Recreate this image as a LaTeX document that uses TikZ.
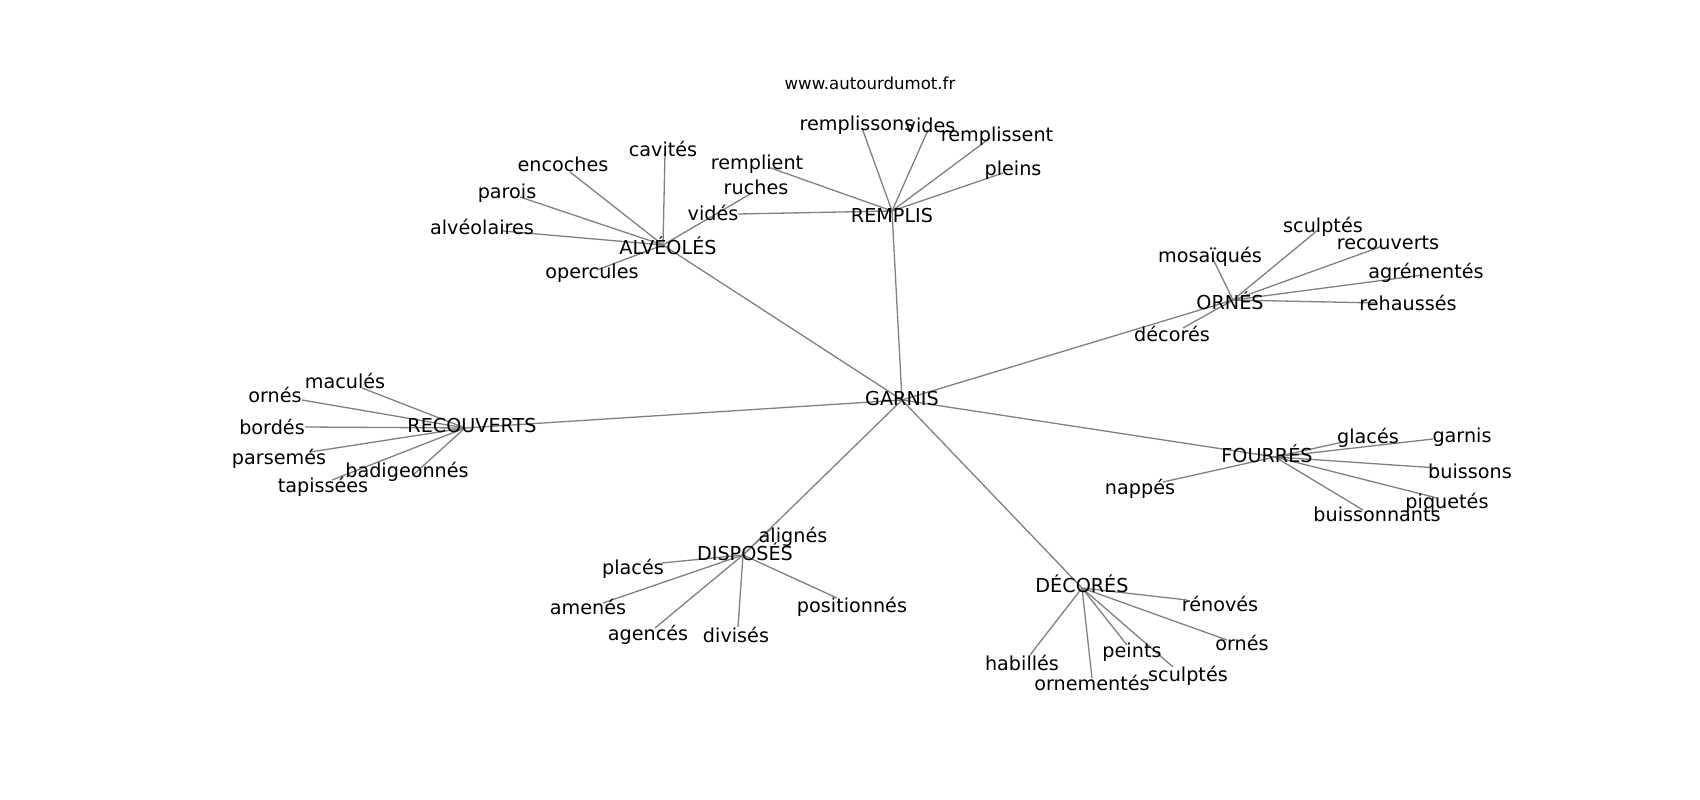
\documentclass[tikz,border=0pt]{standalone}
\usepackage{fontspec}
\setmainfont{DejaVu Sans}
\definecolor{edgegray}{RGB}{128,128,128}
\tikzset{
  lbl/.style={inner sep=0pt, text=black, font=\fontsize{19.2}{23}\selectfont, text height=0.55em, text depth=0pt, anchor=center, yshift=-5pt},
  ttl/.style={inner sep=0pt, text=black, font=\fontsize{16.6}{20}\selectfont, anchor=center},
  edge/.style={draw=edgegray, line width=1.3pt}
}
\begin{document}
\begin{tikzpicture}[x=1pt,y=-1pt]
\useasboundingbox[fill=white] (0,0) rectangle (1700,800);
% ---- edge end points (graph positions)
\coordinate (garnis) at (902,400);
\coordinate (remplis) at (892,211);
\coordinate (alveoles) at (663,245);
\coordinate (ornes) at (1233,300);
\coordinate (recouverts) at (465,428);
\coordinate (fourres) at (1275,457);
\coordinate (disposes) at (743,555);
\coordinate (decores) at (1082,588);
% alveoles leaves
\coordinate (cavites) at (665,153);
\coordinate (encoches) at (570,172);
\coordinate (parois) at (520,197);
\coordinate (alveolaires) at (503,231);
\coordinate (opercules) at (597,270);
\coordinate (ruches) at (752,193);
% remplis leaves
\coordinate (remplissons) at (862,128);
\coordinate (vides) at (928,130);
\coordinate (remplissent) at (990,138);
\coordinate (pleins) at (1003,173);
\coordinate (remplient) at (768,167);
\coordinate (videsb) at (738,214);
% ornes leaves
\coordinate (mosaiques) at (1212,257);
\coordinate (sculptesa) at (1318,230);
\coordinate (recouvertsb) at (1380,247);
\coordinate (agrementes) at (1423,275);
\coordinate (rehausses) at (1377,303);
\coordinate (decoresb) at (1183,328);
% recouverts leaves
\coordinate (macules) at (362,388);
\coordinate (ornesa) at (302,400);
\coordinate (bordes) at (305,427);
\coordinate (parsemes) at (310,452);
\coordinate (tapissees) at (332,480);
\coordinate (badigeonnes) at (413,475);
% fourres leaves
\coordinate (glaces) at (1343,442);
\coordinate (garnisb) at (1433,439);
\coordinate (buissons) at (1438,468);
\coordinate (piquetes) at (1437,498);
\coordinate (buissonnants) at (1363,510);
\coordinate (nappes) at (1163,482);
% disposes leaves
\coordinate (alignes) at (772,528);
\coordinate (places) at (662,563);
\coordinate (amenes) at (603,603);
\coordinate (agences) at (655,628);
\coordinate (divises) at (738,627);
\coordinate (positionnes) at (837,598);
% decores leaves
\coordinate (renoves) at (1187,600);
\coordinate (ornesb) at (1227,640);
\coordinate (habilles) at (1030,655);
\coordinate (ornementes) at (1092,678);
\coordinate (peints) at (1127,645);
\coordinate (sculptesb) at (1173,667);
% ---- connectors
\foreach \h in {remplis,alveoles,ornes,recouverts,fourres,disposes,decores}
  \draw[edge] (garnis) -- (\h);
\foreach \l in {cavites,encoches,parois,alveolaires,opercules,ruches}
  \draw[edge] (alveoles) -- (\l);
\foreach \l in {remplissons,vides,remplissent,pleins,remplient,videsb}
  \draw[edge] (remplis) -- (\l);
\foreach \l in {mosaiques,sculptesa,recouvertsb,agrementes,rehausses,decoresb}
  \draw[edge] (ornes) -- (\l);
\foreach \l in {macules,ornesa,bordes,parsemes,tapissees,badigeonnes}
  \draw[edge] (recouverts) -- (\l);
\foreach \l in {glaces,garnisb,buissons,piquetes,buissonnants,nappes}
  \draw[edge] (fourres) -- (\l);
\foreach \l in {alignes,places,amenes,agences,divises,positionnes}
  \draw[edge] (disposes) -- (\l);
\foreach \l in {renoves,ornesb,habilles,ornementes,peints,sculptesb}
  \draw[edge] (decores) -- (\l);
% ---- labels
\node[ttl] (title) at (870,83) {www.autourdumot.fr};
\node[lbl] (l-garnis) at (902,398) {GARNIS};
\node[lbl] (l-remplis) at (892,215) {REMPLIS};
\node[lbl] (l-alveoles) at (668,247) {ALVÉOLÉS};
\node[lbl] (l-ornes) at (1230,302) {ORNÉS};
\node[lbl] (l-recouverts) at (472,425) {RECOUVERTS};
\node[lbl] (l-fourres) at (1267,455) {FOURRÉS};
\node[lbl] (l-disposes) at (745,553) {DISPOSÉS};
\node[lbl] (l-decores) at (1082,585) {DÉCORÉS};
\node[lbl] (l-cavites) at (663,149) {cavités};
\node[lbl] (l-encoches) at (563,164) {encoches};
\node[lbl] (l-parois) at (507,191) {parois};
\node[lbl] (l-alveolaires) at (482,227) {alvéolaires};
\node[lbl] (l-opercules) at (592,271) {opercules};
\node[lbl] (l-ruches) at (756,187) {ruches};
\node[lbl] (l-remplissons) at (857,123) {remplissons};
\node[lbl] (l-vides) at (930,125) {vides};
\node[lbl] (l-remplissent) at (997,134) {remplissent};
\node[lbl] (l-pleins) at (1013,168) {pleins};
\node[lbl] (l-remplient) at (757,162) {remplient};
\node[lbl] (l-videsb) at (713,213) {vidés};
\node[lbl] (l-mosaiques) at (1210,255) {mosaïqués};
\node[lbl] (l-sculptesa) at (1323,225) {sculptés};
\node[lbl] (l-recouvertsb) at (1388,242) {recouverts};
\node[lbl] (l-agrementes) at (1426,271) {agrémentés};
\node[lbl] (l-rehausses) at (1408,303) {rehaussés};
\node[lbl] (l-decoresb) at (1172,334) {décorés};
\node[lbl] (l-macules) at (345,381) {maculés};
\node[lbl] (l-ornesa) at (275,395) {ornés};
\node[lbl] (l-bordes) at (272,427) {bordés};
\node[lbl] (l-parsemes) at (279,457) {parsemés};
\node[lbl] (l-tapissees) at (323,485) {tapissées};
\node[lbl] (l-badigeonnes) at (407,470) {badigeonnés};
\node[lbl] (l-glaces) at (1368,436) {glacés};
\node[lbl] (l-garnisb) at (1462,435) {garnis};
\node[lbl] (l-buissons) at (1470,471) {buissons};
\node[lbl] (l-piquetes) at (1447,501) {piquetés};
\node[lbl] (l-buissonnants) at (1377,514) {buissonnants};
\node[lbl] (l-nappes) at (1140,487) {nappés};
\node[lbl] (l-alignes) at (793,535) {alignés};
\node[lbl] (l-places) at (633,567) {placés};
\node[lbl] (l-amenes) at (588,607) {amenés};
\node[lbl] (l-agences) at (648,633) {agencés};
\node[lbl] (l-divises) at (736,635) {divisés};
\node[lbl] (l-positionnes) at (852,605) {positionnés};
\node[lbl] (l-renoves) at (1220,604) {rénovés};
\node[lbl] (l-ornesb) at (1242,643) {ornés};
\node[lbl] (l-habilles) at (1022,663) {habillés};
\node[lbl] (l-ornementes) at (1092,683) {ornementés};
\node[lbl] (l-peints) at (1132,650) {peints};
\node[lbl] (l-sculptesb) at (1188,674) {sculptés};
\end{tikzpicture}
\end{document}
